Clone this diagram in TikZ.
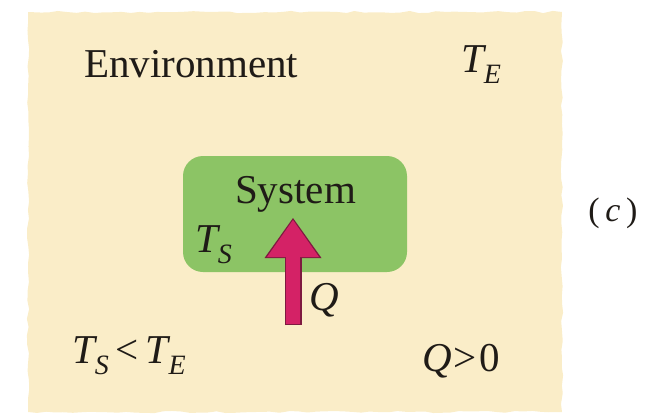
\documentclass[tikz,border=0pt]{standalone}
\usepackage{fontspec}
\setmainfont{Liberation Serif}
\usepackage{tikz}
\usetikzlibrary{
  arrows.meta,
  decorations.pathmorphing,
  positioning
}
\definecolor{ink}{HTML}{1F1B17}
\definecolor{paper}{HTML}{FAEDC8}
\definecolor{sysgreen}{HTML}{8CC465}
\definecolor{heatred}{HTML}{D42266}
\definecolor{heatedge}{HTML}{7E1A40}
\newcommand{\tsub}[2]{\textit{#1}\kern-0.06em\raisebox{-0.28em}{\fontsize{28}{31}\selectfont\textit{#2}}}
\tikzset{
  panel/.style={
    fill=paper,
    decorate,
    decoration={random steps, segment length=9pt, amplitude=1.1pt}
  },
  sysbox/.style={
    fill=sysgreen,
    rounded corners=20pt,
    minimum width=224pt,
    minimum height=116pt,
    inner sep=0pt
  },
  word/.style={
    text=ink,
    inner sep=0pt,
    anchor=base west,
    font=\fontsize{41}{48}\selectfont
  },
  quantity/.style={
    word,
    font=\fontsize{41}{48}\selectfont
  },
  heatedge/.style={
    line width=17pt,
    draw=heatedge,
    -{Triangle[width=57pt,length=40pt,line width=0pt]}
  },
  heatflow/.style={
    line width=14pt,
    draw=heatred,
    shorten >=2pt,
    shorten <=1.5pt,
    -{Triangle[width=52pt,length=37pt,line width=0pt]}
  }
}
\begin{document}
\begin{tikzpicture}[x=1pt,y=-1pt]
  \useasboundingbox (0,0) rectangle (649,416);
  \pgfmathsetseed{7}
  \fill[panel] (28,12) rectangle (562,412);

  \node[word] (env) at (84,77) {Environment};
  \node[quantity] (envtemp) at (461,72) {\tsub{T}{E}};

  \node[sysbox] (sys) at (295,214) {};
  \node[word] (syslabel) at (235,203) {System};
  \node[quantity] (systemp) at (195,252) {\tsub{T}{S}};

  \coordinate (qfoot) at (293,325);
  \coordinate (qtip) at (293,218);
  \draw[heatedge] (qfoot) -- (qtip);
  \draw[heatflow] (qfoot) -- (qtip);
  \node[quantity] (qlabel) at (309,310) {\textit{Q}};

  \node[quantity] (cmp) at (72,363) {\tsub{T}{S}\,<\,\tsub{T}{E}};
  \node[quantity] (sign) at (422,371) {\textit{Q}\kern0.04em>\kern0.08em0};

  \node[text=ink, inner sep=0pt, font=\fontsize{34}{40}\selectfont]
    (part) at (613,213) {(\,\textit{c}\,)};
\end{tikzpicture}
\end{document}
